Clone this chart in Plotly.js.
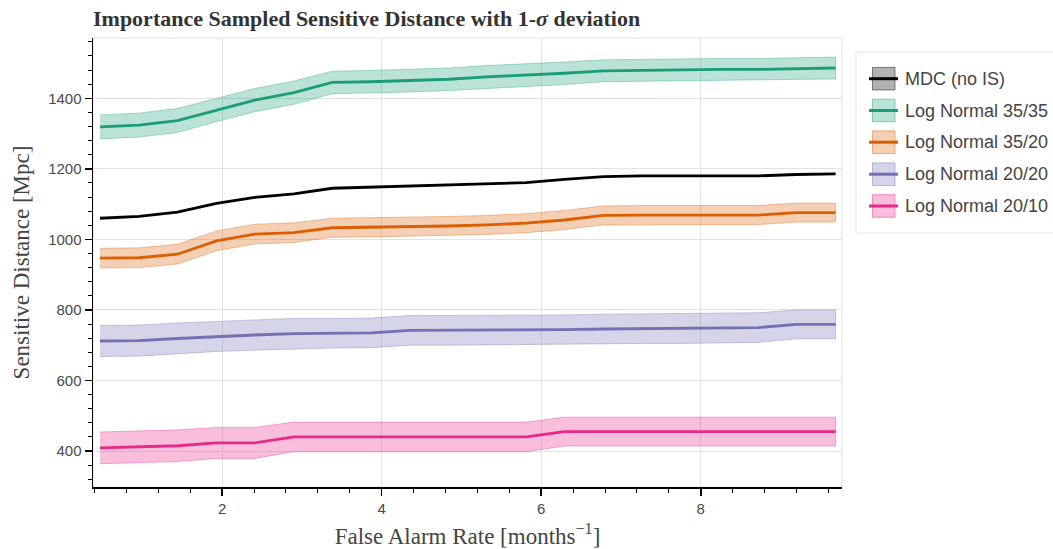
<!DOCTYPE html>
<html>
<head>
<meta charset="utf-8">
<script src="https://cdn.plot.ly/plotly-3.0.1.min.js"></script>
<style>html,body{margin:0;padding:0;background:#fff;}#chart{width:1053px;height:549px;}</style>
</head>
<body>
<div id="chart"></div>
<script>
// ---- data ----
const farMonths = [0.47, 0.96, 1.44, 1.93, 2.41, 2.90, 3.38, 3.87, 4.35, 4.84, 5.32, 5.81, 6.29, 6.78, 7.26, 7.75, 8.23, 8.72, 9.20, 9.69];

const seriesNames = ["MDC (no IS)", "Log Normal 35/35", "Log Normal 35/20", "Log Normal 20/20", "Log Normal 20/10"];

const mdcNoIS   = [1060, 1065, 1077, 1102, 1119, 1129, 1145, 1148, 1151, 1154, 1156, 1161, 1170, 1178, 1180, 1180, 1180, 1180, 1184, 1186];

const ln3535     = [1319, 1324, 1337, 1367, 1395, 1416, 1445, 1447, 1450, 1454, 1461, 1465, 1471, 1478, 1480, 1482, 1482, 1482, 1485, 1486];
const ln3535Sig  = [34, 34, 34, 33, 33, 33, 32, 32, 32, 32, 32, 32, 32, 31, 31, 31, 31, 31, 31, 31];

const ln3520     = [947, 948, 958, 996, 1015, 1019, 1033, 1034, 1036, 1038, 1041, 1046, 1055, 1068, 1069, 1069, 1069, 1069, 1076, 1076];
const ln3520Sig  = [28, 28, 28, 28, 28, 28, 27, 27, 27, 27, 27, 27, 27, 27, 27, 27, 27, 27, 27, 27];

const ln2020     = [712, 713, 719, 725, 729, 733, 734, 735, 742, 742, 742, 742, 744, 746, 747, 747, 748, 750, 759, 759];
const ln2020Sig  = [44, 44, 44, 43, 43, 43, 42, 42, 42, 42, 42, 42, 42, 42, 42, 42, 42, 42, 41, 41];

const ln2010     = [409, 413, 415, 423, 423, 440, 440, 440, 440, 440, 440, 440, 455, 455, 455, 455, 455, 455, 455, 455];
const ln2010Sig  = [45, 45, 45, 44, 44, 42, 42, 42, 42, 42, 42, 42, 41, 41, 41, 41, 41, 41, 41, 41];

// ---- styling ----
const colors = {
  mdc:  [0, 0, 0],
  g:    [27, 158, 119],
  o:    [217, 95, 2],
  p:    [117, 112, 179],
  k:    [231, 41, 138]
};
function rgba(c, a) { return `rgba(${c[0]},${c[1]},${c[2]},${a})`; }

const traces = [];
function addBand(vals, sig, col) {
  const upper = vals.map((v, i) => v + sig[i]);
  const lower = vals.map((v, i) => v - sig[i]);
  traces.push({
    x: farMonths.concat(farMonths.slice().reverse()),
    y: upper.concat(lower.slice().reverse()),
    type: 'scatter', mode: 'lines', fill: 'toself',
    fillcolor: rgba(col, 0.3),
    line: {color: rgba(col, 0.35), width: 1},
    hoverinfo: 'skip', showlegend: false
  });
}
function addLine(vals, col, name) {
  traces.push({
    x: farMonths, y: vals, type: 'scatter', mode: 'lines', name: name,
    line: {color: rgba(col, 1), width: 2.8}, showlegend: false
  });
}
addBand(ln3535, ln3535Sig, colors.g);
addBand(ln3520, ln3520Sig, colors.o);
addBand(ln2020, ln2020Sig, colors.p);
addBand(ln2010, ln2010Sig, colors.k);
addLine(mdcNoIS, colors.mdc, seriesNames[0]);
addLine(ln3535, colors.g, seriesNames[1]);
addLine(ln3520, colors.o, seriesNames[2]);
addLine(ln2020, colors.p, seriesNames[3]);
addLine(ln2010, colors.k, seriesNames[4]);

// ---- layout geometry ----
const W = 1053, H = 549;
const M = {l: 93, r: 211, t: 38, b: 62};
const pw = W - M.l - M.r, ph = H - M.t - M.b;
const px = x => (x - M.l) / pw;
const py = y => (H - M.b - y) / ph;

const shapes = [
  {type: 'rect', xref: 'paper', yref: 'paper', x0: 0, x1: 1, y0: 0, y1: 1,
   line: {color: '#e3e3e3', width: 1}, layer: 'below'},
  // legend box
  {type: 'rect', xref: 'paper', yref: 'paper', x0: px(856), x1: px(1070), y0: py(233), y1: py(52),
   fillcolor: '#ffffff', line: {color: '#e6e6e6', width: 1}}
];
const annotations = [];
const legendCols = [colors.mdc, colors.g, colors.o, colors.p, colors.k];
const legendY = [78.7, 110.5, 142.2, 174.2, 206];
legendCols.forEach((c, i) => {
  const cy = legendY[i];
  shapes.push({type: 'rect', xref: 'paper', yref: 'paper',
    x0: px(872.5), x1: px(895), y0: py(cy + 11.3), y1: py(cy - 11.3),
    fillcolor: rgba(c, 0.3), line: {color: rgba(c, 0.45), width: 1}});
  shapes.push({type: 'line', xref: 'paper', yref: 'paper',
    x0: px(869), x1: px(898), y0: py(cy), y1: py(cy),
    line: {color: rgba(c, 1), width: 3}});
  annotations.push({xref: 'paper', yref: 'paper', x: px(903), y: py(cy),
    xanchor: 'left', yanchor: 'middle', showarrow: false, text: seriesNames[i],
    font: {family: 'Liberation Sans, Arial, sans-serif', size: 18, color: '#444'}});
});

const tickFont = {family: 'Liberation Sans, Arial, sans-serif', size: 15, color: '#4a4a4a'};
const titleFont = {family: 'Liberation Serif, Times New Roman, serif', size: 23, color: '#444'};

const layout = {
  width: W, height: H,
  margin: {l: M.l, r: M.r, t: M.t, b: M.b, pad: 0},
  paper_bgcolor: '#fff', plot_bgcolor: '#fff',
  showlegend: false,
  title: {
    text: '<b>Importance Sampled Sensitive Distance with 1-<i>σ</i> deviation</b>',
    x: 93 / W, xanchor: 'left', xref: 'container',
    y: 1 - 18 / H, yanchor: 'middle', yref: 'container',
    font: {family: 'Liberation Serif, Times New Roman, serif', size: 22, color: '#333'}
  },
  xaxis: {
    range: [0.382, 9.77], tick0: 0, dtick: 2,
    showline: true, linecolor: '#000', linewidth: 1.5,
    ticks: 'outside', ticklen: 7, tickwidth: 1.5, tickcolor: '#000',
    showgrid: true, gridcolor: '#e3e3e3', gridwidth: 1, zeroline: false,
    minor: {tick0: 0, dtick: 0.4, ticks: 'outside', ticklen: 4, tickwidth: 1, tickcolor: '#000', showgrid: false},
    tickfont: tickFont,
    title: {text: 'False Alarm Rate [months<sup>−1</sup>]', font: titleFont, standoff: 12}
  },
  yaxis: {
    range: [298, 1571], tick0: 0, dtick: 200,
    showline: true, linecolor: '#000', linewidth: 1.5,
    ticks: 'outside', ticklen: 7, tickwidth: 1.5, tickcolor: '#000',
    showgrid: true, gridcolor: '#e3e3e3', gridwidth: 1, zeroline: false,
    minor: {tick0: 0, dtick: 40, ticks: 'outside', ticklen: 4, tickwidth: 1, tickcolor: '#000', showgrid: false},
    tickfont: tickFont,
    title: {text: 'Sensitive Distance [Mpc]', font: titleFont, standoff: 12}
  },
  shapes: shapes,
  annotations: annotations
};

Plotly.newPlot('chart', traces, layout, {displayModeBar: false, staticPlot: true});
</script>
</body>
</html>
